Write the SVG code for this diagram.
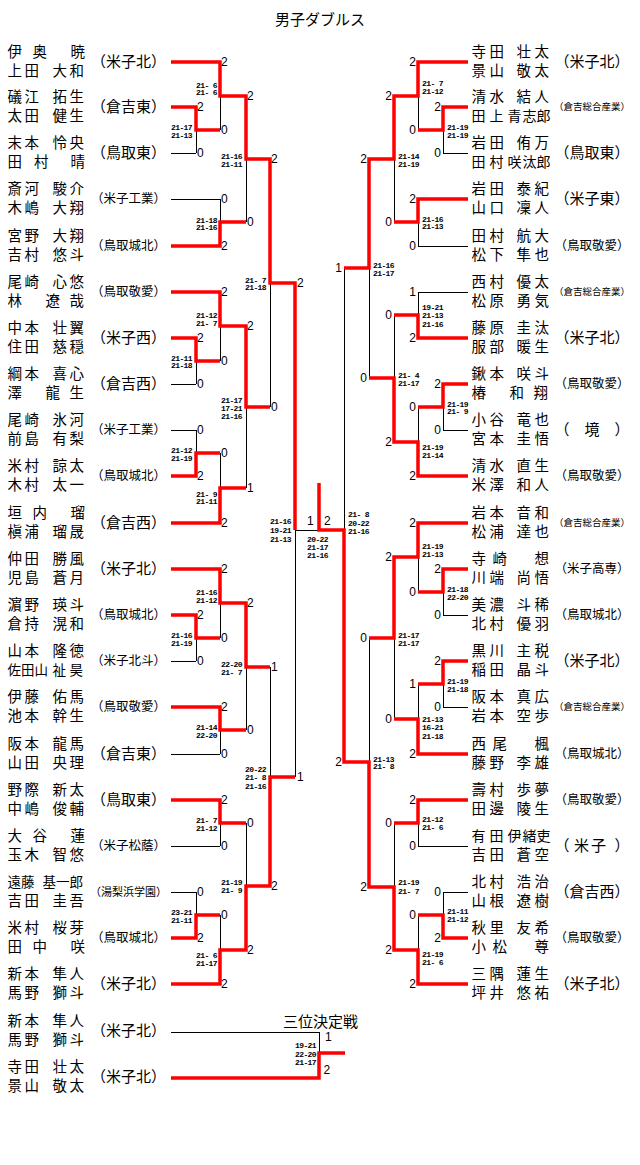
<svg xmlns="http://www.w3.org/2000/svg" width="640" height="1165" viewBox="0 0 640 1165">
<style>
.bk{fill:none;stroke:#000;stroke-width:1;shape-rendering:crispEdges}
.rd{fill:none;stroke:#f00;stroke-width:3.5;stroke-linejoin:miter;stroke-linecap:butt}
text{fill:#000}
.nm{font-family:"Noto Sans CJK JP","Noto Sans CJK SC",sans-serif;font-size:14.5px}
.n5{font-size:13.5px}
.n14{font-size:14px}
.sc{font-family:"Noto Sans CJK JP","Noto Sans CJK SC",sans-serif;text-anchor:middle}
.sx{font-family:"Noto Sans CJK JP","Noto Sans CJK SC",sans-serif}
.s15{font-size:15px}.s12{font-size:12.5px}.s11{font-size:11px}.s9{font-size:9.5px}
.pt{font-family:"Liberation Sans",Arial,sans-serif;font-size:12px}
.pr{text-anchor:end}
.gs{font-family:"Liberation Mono",monospace;font-size:8px;font-weight:bold;letter-spacing:-0.6px}
.tt{font-family:"Noto Sans CJK JP","Noto Sans CJK SC",sans-serif;font-size:15px;text-anchor:middle}
</style>
<text class="tt" x="320" y="25">男子ダブルス</text>
<text class="tt" x="320.5" y="1027">三位決定戦</text>
<g id="connectors">
<path class="bk" d="M171 62H220M171 107H196M171 153H196M171 199H220M171 246H220M171 292H220M171 338H196M171 384H196M171 430H196M171 476H196M171 523H220M171 569H220M171 615H196M171 661H196M171 707H220M171 754H220M171 800H220M171 846H220M171 892H196M171 938H196M171 984H220
M196 107V153M196 338V384M196 430V476M196 615V661M196 892V938
M196 130H220M196 361H220M196 453H220M196 638H220M196 915H220
M220 62V130M220 199V246M220 292V361M220 453V523M220 569V638M220 707V754M220 800V846M220 915V984
M220 96H246M220 222H246M220 326H246M220 488H246M220 603H246M220 730H246M220 823H246M220 950H246
M246 96V222M246 326V488M246 603V730M246 823V950
M246 159H270M246 407H270M246 667H270M246 886H270
M270 159V407M270 667V886M270 283H295M270 777H295M295 283V777M295 530H344M344 268V762
M344 268H369M344 762H369M369 159V378M369 638V887
M369 159H394M369 378H394M369 638H394M369 887H394
M394 96V222M394 315V442M394 557V719M394 823V950
M394 96H418M394 222H418M394 315H418M394 442H418M394 557H418M394 719H418M394 823H418M394 950H418
M418 62V130M418 199V246M418 292V338M418 407V476M418 523V592M418 684V754M418 800V846M418 915V984
M418 130H443M418 407H443M418 592H443M418 684H443M418 915H443
M443 107V153M443 384V430M443 569V615M443 661V707M443 892V938
M418 62H468M443 107H468M443 153H468M418 199H468M418 246H468M418 292H468M418 338H468M443 384H468M443 430H468M418 476H468M418 523H468M443 569H468M443 615H468M443 661H468M443 707H468M418 754H468M418 800H468M418 846H468M443 892H468M443 938H468M418 984H468
M171 1032H319V1078M171 1078H319"/>
<path class="rd" d="M171 62H220V96H246V159H270V283H295V530"/>
<path class="rd" d="M171 107H196V130H220"/>
<path class="rd" d="M171 246H220V222H246"/>
<path class="rd" d="M171 292H220V326H246V407H270"/>
<path class="rd" d="M171 338H196V361H220"/>
<path class="rd" d="M171 476H196V453H220"/>
<path class="rd" d="M171 523H220V488H246"/>
<path class="rd" d="M171 569H220V603H246V667H270"/>
<path class="rd" d="M171 615H196V638H220"/>
<path class="rd" d="M171 707H220V730H246"/>
<path class="rd" d="M171 800H220V823H246"/>
<path class="rd" d="M171 938H196V915H220"/>
<path class="rd" d="M171 984H220V950H246V886H270V777H295"/>
<path class="rd" d="M468 62H418V96H394V159H369V268H344"/>
<path class="rd" d="M468 107H443V130H418"/>
<path class="rd" d="M468 199H418V222H394"/>
<path class="rd" d="M468 338H418V315H394"/>
<path class="rd" d="M468 384H443V407H418"/>
<path class="rd" d="M468 476H418V442H394V378H369"/>
<path class="rd" d="M468 523H418V557H394V638H369"/>
<path class="rd" d="M468 569H443V592H418"/>
<path class="rd" d="M468 661H443V684H418"/>
<path class="rd" d="M468 754H418V719H394"/>
<path class="rd" d="M468 800H418V823H394"/>
<path class="rd" d="M468 938H443V915H418"/>
<path class="rd" d="M468 984H418V950H394V887H369V762H344V530H319V483"/>
<path class="rd" d="M171 1078H319V1053H345"/>
</g>
<g id="points" class="pt">
<text x="221" y="65.5">2</text><text x="221" y="133.5">0</text><text x="221" y="202.5">0</text><text x="221" y="249.5">2</text><text x="221" y="295.5">2</text><text x="221" y="364.5">0</text><text x="221" y="456.5">0</text><text x="221" y="526.5">2</text><text x="221" y="572.5">2</text><text x="221" y="641.5">0</text><text x="221" y="710.5">2</text><text x="221" y="757.5">0</text><text x="221" y="803.5">2</text><text x="221" y="849.5">0</text><text x="221" y="918.5">0</text><text x="221" y="987.5">2</text>
<text x="197" y="110.5">2</text><text x="197" y="156.5">0</text><text x="197" y="341.5">2</text><text x="197" y="387.5">0</text><text x="197" y="433.5">0</text><text x="197" y="479.5">2</text><text x="197" y="618.5">2</text><text x="197" y="664.5">0</text><text x="197" y="895.5">0</text><text x="197" y="941.5">2</text>
<text x="247" y="99.5">2</text><text x="247" y="225.5">0</text><text x="247" y="329.5">2</text><text x="247" y="491.5">1</text><text x="247" y="606.5">2</text><text x="247" y="733.5">0</text><text x="247" y="826.5">0</text><text x="247" y="953.5">2</text>
<text x="271" y="162.5">2</text><text x="271" y="410.5">0</text><text x="271" y="670.5">1</text><text x="271" y="889.5">2</text>
<text x="297" y="286.5">2</text><text x="297" y="780.5">1</text>
<text x="307" y="525">1</text><text x="324" y="525">2</text>
<text x="325" y="1041">1</text><text x="323.5" y="1074">2</text>
<g class="pr">
<text x="416" y="65.5">2</text><text x="416" y="133.5">0</text><text x="416" y="202.5">2</text><text x="416" y="249.5">0</text><text x="416" y="295.5">1</text><text x="416" y="341.5">2</text><text x="416" y="410.5">0</text><text x="416" y="479.5">2</text><text x="416" y="526.5">2</text><text x="416" y="595.5">0</text><text x="416" y="687.5">1</text><text x="416" y="757.5">2</text><text x="416" y="803.5">2</text><text x="416" y="849.5">0</text><text x="416" y="918.5">0</text><text x="416" y="987.5">2</text>
<text x="441" y="110.5">2</text><text x="441" y="156.5">0</text><text x="441" y="387.5">2</text><text x="441" y="433.5">0</text><text x="441" y="572.5">2</text><text x="441" y="618.5">0</text><text x="441" y="664.5">2</text><text x="441" y="710.5">0</text><text x="441" y="895.5">0</text><text x="441" y="941.5">2</text>
<text x="392" y="99.5">2</text><text x="392" y="225.5">0</text><text x="392" y="318.5">0</text><text x="392" y="445.5">2</text><text x="392" y="560.5">2</text><text x="392" y="722.5">0</text><text x="392" y="826.5">0</text><text x="392" y="953.5">2</text>
<text x="367" y="162.5">2</text><text x="367" y="381.5">0</text><text x="367" y="641.5">0</text><text x="367" y="890.5">2</text>
<text x="342" y="271.5">1</text><text x="342" y="765.5">2</text>
</g>
</g>
<g id="scores" class="gs">
<text x="171" y="130">21-17<tspan x="171" y="138">21-13</tspan></text>
<text x="196" y="88">21- 6<tspan x="196" y="95">21- 6</tspan></text>
<text x="196" y="223">21-18<tspan x="196" y="230">21-16</tspan></text>
<text x="221" y="159">21-16<tspan x="221" y="167">21-11</tspan></text>
<text x="245" y="283">21- 7<tspan x="245" y="290">21-18</tspan></text>
<text x="196" y="318">21-12<tspan x="196" y="326">21- 7</tspan></text>
<text x="171" y="361">21-11<tspan x="171" y="368">21-18</tspan></text>
<text x="221" y="403">21-17<tspan x="221" y="411">17-21</tspan><tspan x="221" y="419">21-16</tspan></text>
<text x="171" y="453">21-12<tspan x="171" y="461">21-19</tspan></text>
<text x="196" y="497">21- 9<tspan x="196" y="504">21-11</tspan></text>
<text x="270" y="524">21-16<tspan x="270" y="533">19-21</tspan><tspan x="270" y="542">21-13</tspan></text>
<text x="196" y="595">21-16<tspan x="196" y="603">21-12</tspan></text>
<text x="171" y="638">21-16<tspan x="171" y="646">21-19</tspan></text>
<text x="221" y="667">22-20<tspan x="221" y="675">21- 7</tspan></text>
<text x="196" y="730">21-14<tspan x="196" y="738">22-20</tspan></text>
<text x="245" y="772">20-22<tspan x="245" y="780">21- 8</tspan><tspan x="245" y="789">21-16</tspan></text>
<text x="196" y="823">21- 7<tspan x="196" y="831">21-12</tspan></text>
<text x="221" y="885">21-19<tspan x="221" y="893">21- 9</tspan></text>
<text x="171" y="915">23-21<tspan x="171" y="923">21-11</tspan></text>
<text x="196" y="958">21- 6<tspan x="196" y="966">21-17</tspan></text>
<text x="307" y="542">20-22<tspan x="307" y="550">21-17</tspan><tspan x="307" y="558">21-16</tspan></text>
<text x="295" y="1048">19-21<tspan x="295" y="1057">22-20</tspan><tspan x="295" y="1065">21-17</tspan></text>
<text x="422" y="86">21- 7<tspan x="422" y="94">21-12</tspan></text>
<text x="447" y="130">21-19<tspan x="447" y="138">21-19</tspan></text>
<text x="398" y="159">21-14<tspan x="398" y="167">21-19</tspan></text>
<text x="422" y="222">21-16<tspan x="422" y="229">21-13</tspan></text>
<text x="373" y="268">21-16<tspan x="373" y="276">21-17</tspan></text>
<text x="422" y="310">19-21<tspan x="422" y="318">21-13</tspan><tspan x="422" y="327">21-16</tspan></text>
<text x="398" y="378">21- 4<tspan x="398" y="386">21-17</tspan></text>
<text x="447" y="407">21-19<tspan x="447" y="414">21- 9</tspan></text>
<text x="422" y="450">21-19<tspan x="422" y="458">21-14</tspan></text>
<text x="348" y="517">21- 8<tspan x="348" y="526">20-22</tspan><tspan x="348" y="534">21-16</tspan></text>
<text x="422" y="549">21-19<tspan x="422" y="557">21-13</tspan></text>
<text x="447" y="592">21-18<tspan x="447" y="600">22-20</tspan></text>
<text x="398" y="638">21-17<tspan x="398" y="646">21-17</tspan></text>
<text x="447" y="684">21-19<tspan x="447" y="692">21-18</tspan></text>
<text x="422" y="722">21-13<tspan x="422" y="730">16-21</tspan><tspan x="422" y="739">21-18</tspan></text>
<text x="373" y="762">21-13<tspan x="373" y="769">21- 8</tspan></text>
<text x="422" y="822">21-12<tspan x="422" y="830">21- 6</tspan></text>
<text x="398" y="885">21-19<tspan x="398" y="894">21- 7</tspan></text>
<text x="447" y="914">21-11<tspan x="447" y="922">21-12</tspan></text>
<text x="422" y="957">21-19<tspan x="422" y="965">21- 6</tspan></text>
</g>
<g id="L01"><text class="nm" x="7.5 32.5 70.5" y="56.5">伊奥暁</text><text class="nm" x="7.5 24.5 52.5 69.5" y="75.5">上田大和</text><text class="sc s15" x="128.5" y="67">（米子北）</text></g>
<g id="L02"><text class="nm" x="7.5 24.5 52.5 69.5" y="101.5">礒江拓生</text><text class="nm" x="7.5 24.5 52.5 69.5" y="120.5">太田健生</text><text class="sc s15" x="128.5" y="112">（倉吉東）</text></g>
<g id="L03"><text class="nm" x="7.5 24.5 52.5 69.5" y="147.5">末本怜央</text><text class="nm" x="7.5 34 70.5" y="166.5">田村晴</text><text class="sc s15" x="128.5" y="158">（鳥取東）</text></g>
<g id="L04"><text class="nm" x="7.5 24.5 52.5 69.5" y="193.5">斎河駿介</text><text class="nm" x="7.5 24.5 52.5 69.5" y="212.5">木嶋大翔</text><text class="sc s12" x="128.5" y="203">（米子工業）</text></g>
<g id="L05"><text class="nm" x="7.5 24.5 52.5 69.5" y="240.5">宮野大翔</text><text class="nm" x="7.5 24.5 52.5 69.5" y="259.5">吉村悠斗</text><text class="sc s12" x="128.5" y="250">（鳥取城北）</text></g>
<g id="L06"><text class="nm" x="7.5 24.5 52.5 69.5" y="286.5">尾崎心悠</text><text class="nm" x="7.5 45.5 69.5" y="305.5">林遼哉</text><text class="sc s12" x="128.5" y="296">（鳥取敬愛）</text></g>
<g id="L07"><text class="nm" x="7.5 24.5 52.5 69.5" y="332.5">中本壮翼</text><text class="nm" x="7.5 24.5 52.5 69.5" y="351.5">住田慈穏</text><text class="sc s15" x="128.5" y="343">（米子西）</text></g>
<g id="L08"><text class="nm" x="7.5 24.5 52.5 69.5" y="378.5">綱本喜心</text><text class="nm" x="7.5 45.5 69.5" y="397.5">澤龍生</text><text class="sc s15" x="128.5" y="389">（倉吉西）</text></g>
<g id="L09"><text class="nm" x="7.5 24.5 52.5 69.5" y="424.5">尾崎氷河</text><text class="nm" x="7.5 24.5 52.5 69.5" y="443.5">前島有梨</text><text class="sc s12" x="128.5" y="434">（米子工業）</text></g>
<g id="L10"><text class="nm" x="7.5 24.5 52.5 69.5" y="470.5">米村諒太</text><text class="nm" x="7.5 24.5 52.5 69.5" y="489.5">木村太一</text><text class="sc s12" x="128.5" y="480">（鳥取城北）</text></g>
<g id="L11"><text class="nm" x="7.5 32.5 70.5" y="517.5">垣内瑠</text><text class="nm" x="7.5 24.5 52.5 69.5" y="536.5">槇浦瑠晟</text><text class="sc s15" x="128.5" y="528">（倉吉西）</text></g>
<g id="L12"><text class="nm" x="7.5 24.5 52.5 69.5" y="563.5">仲田勝風</text><text class="nm" x="7.5 24.5 52.5 69.5" y="582.5">児島蒼月</text><text class="sc s15" x="128.5" y="574">（米子北）</text></g>
<g id="L13"><text class="nm" x="7.5 24.5 52.5 69.5" y="609.5">濵野瑛斗</text><text class="nm" x="7.5 24.5 52.5 69.5" y="628.5">倉持滉和</text><text class="sc s12" x="128.5" y="619">（鳥取城北）</text></g>
<g id="L14"><text class="nm" x="7.5 24.5 52.5 69.5" y="655.5">山本隆徳</text><text class="nm n5" x="7.5 21 34.5 52.5 69.5" y="674.5">佐田山祉昊</text><text class="sc s12" x="128.5" y="665">（米子北斗）</text></g>
<g id="L15"><text class="nm" x="7.5 24.5 52.5 69.5" y="701.5">伊藤佑馬</text><text class="nm" x="7.5 24.5 52.5 69.5" y="720.5">池本幹生</text><text class="sc s12" x="128.5" y="711">（鳥取敬愛）</text></g>
<g id="L16"><text class="nm" x="7.5 24.5 52.5 69.5" y="748.5">阪本龍馬</text><text class="nm" x="7.5 24.5 52.5 69.5" y="767.5">山田央理</text><text class="sc s15" x="128.5" y="759">（倉吉東）</text></g>
<g id="L17"><text class="nm" x="7.5 24.5 52.5 69.5" y="794.5">野際新太</text><text class="nm" x="7.5 24.5 52.5 69.5" y="813.5">中嶋俊輔</text><text class="sc s15" x="128.5" y="805">（鳥取東）</text></g>
<g id="L18"><text class="nm" x="7.5 32.5 70.5" y="840.5">大谷蓮</text><text class="nm" x="7.5 24.5 52.5 69.5" y="859.5">玉木智悠</text><text class="sc s12" x="128.5" y="850">（米子松蔭）</text></g>
<g id="L19"><text class="nm n5" x="7.5 21 42.5 56 69.5" y="886.5">遠藤基一郎</text><text class="nm" x="7.5 24.5 52.5 69.5" y="905.5">吉田圭吾</text><text class="sc s11" x="128.5" y="895.5">（湯梨浜学園）</text></g>
<g id="L20"><text class="nm" x="7.5 24.5 52.5 69.5" y="932.5">米村桜芽</text><text class="nm" x="7.5 32.5 70.5" y="951.5">田中咲</text><text class="sc s12" x="128.5" y="942">（鳥取城北）</text></g>
<g id="L21"><text class="nm" x="7.5 24.5 52.5 69.5" y="978.5">新本隼人</text><text class="nm" x="7.5 24.5 52.5 69.5" y="997.5">馬野獅斗</text><text class="sc s15" x="128.5" y="989">（米子北）</text></g>
<g id="T01"><text class="nm" x="7.5 24.5 52.5 69.5" y="1025.5">新本隼人</text><text class="nm" x="7.5 24.5 52.5 69.5" y="1044.5">馬野獅斗</text><text class="sc s15" x="128.5" y="1036">（米子北）</text></g>
<g id="T02"><text class="nm" x="7.5 24.5 52.5 69.5" y="1071.5">寺田壮太</text><text class="nm" x="7.5 24.5 52.5 69.5" y="1090.5">景山敬太</text><text class="sc s15" x="128.5" y="1082">（米子北）</text></g>
<g id="R01"><text class="nm" x="471.5 489.5 516.5 534.5" y="56.5">寺田壮太</text><text class="nm" x="471.5 489.5 516.5 534.5" y="75.5">景山敬太</text><text class="sc s15" x="592" y="67">（米子北）</text></g>
<g id="R02"><text class="nm" x="471.5 489.5 516.5 534.5" y="101.5">清水結人</text><text class="nm n14" x="471.5 489.5 507.5 522.5 536.5" y="120.5">田上青志郎</text><text class="sc s9" x="592" y="110">（倉吉総合産業）</text></g>
<g id="R03"><text class="nm" x="471.5 489.5 516.5 534.5" y="147.5">岩田侑万</text><text class="nm n14" x="471.5 489.5 507.5 522.5 536.5" y="166.5">田村咲汰郎</text><text class="sc s15" x="592" y="158">（鳥取東）</text></g>
<g id="R04"><text class="nm" x="471.5 489.5 516.5 534.5" y="193.5">岩田泰紀</text><text class="nm" x="471.5 489.5 516.5 534.5" y="212.5">山口凜人</text><text class="sc s15" x="592" y="204">（米子東）</text></g>
<g id="R05"><text class="nm" x="471.5 489.5 516.5 534.5" y="240.5">田村航大</text><text class="nm" x="471.5 489.5 516.5 534.5" y="259.5">松下隼也</text><text class="sc s12" x="592" y="250">（鳥取敬愛）</text></g>
<g id="R06"><text class="nm" x="471.5 489.5 516.5 534.5" y="286.5">西村優太</text><text class="nm" x="471.5 489.5 516.5 534.5" y="305.5">松原勇気</text><text class="sc s9" x="592" y="295">（倉吉総合産業）</text></g>
<g id="R07"><text class="nm" x="471.5 489.5 516.5 534.5" y="332.5">藤原圭汰</text><text class="nm" x="471.5 489.5 516.5 534.5" y="351.5">服部暖生</text><text class="sc s15" x="592" y="343">（米子北）</text></g>
<g id="R08"><text class="nm" x="471.5 489.5 516.5 534.5" y="378.5">鍬本咲斗</text><text class="nm" x="471.5 509.5 533.5" y="397.5">椿和翔</text><text class="sc s12" x="592" y="388">（鳥取敬愛）</text></g>
<g id="R09"><text class="nm" x="471.5 489.5 516.5 534.5" y="424.5">小谷竜也</text><text class="nm" x="471.5 489.5 516.5 534.5" y="443.5">宮本圭悟</text><text class="sx s15" x="554.5 584.5 614.5" y="435">（境）</text></g>
<g id="R10"><text class="nm" x="471.5 489.5 516.5 534.5" y="470.5">清水直生</text><text class="nm" x="471.5 489.5 516.5 534.5" y="489.5">米澤和人</text><text class="sc s12" x="592" y="480">（鳥取敬愛）</text></g>
<g id="R11"><text class="nm" x="471.5 489.5 516.5 534.5" y="517.5">岩本音和</text><text class="nm" x="471.5 489.5 516.5 534.5" y="536.5">松浦達也</text><text class="sc s9" x="592" y="526">（倉吉総合産業）</text></g>
<g id="R12"><text class="nm" x="471.5 492.5 534.5" y="563.5">寺崎想</text><text class="nm" x="471.5 489.5 516.5 534.5" y="582.5">川端尚悟</text><text class="sc s12" x="592" y="573">（米子高専）</text></g>
<g id="R13"><text class="nm" x="471.5 489.5 516.5 534.5" y="609.5">美濃斗稀</text><text class="nm" x="471.5 489.5 516.5 534.5" y="628.5">北村優羽</text><text class="sc s12" x="592" y="619">（鳥取城北）</text></g>
<g id="R14"><text class="nm" x="471.5 489.5 516.5 534.5" y="655.5">黒川主税</text><text class="nm" x="471.5 489.5 516.5 534.5" y="674.5">稲田晶斗</text><text class="sc s15" x="592" y="666">（米子北）</text></g>
<g id="R15"><text class="nm" x="471.5 489.5 516.5 534.5" y="701.5">阪本真広</text><text class="nm" x="471.5 489.5 516.5 534.5" y="720.5">岩本空歩</text><text class="sc s9" x="592" y="710">（倉吉総合産業）</text></g>
<g id="R16"><text class="nm" x="471.5 492.5 534.5" y="748.5">西尾楓</text><text class="nm" x="471.5 489.5 516.5 534.5" y="767.5">藤野李雄</text><text class="sc s12" x="592" y="758">（鳥取城北）</text></g>
<g id="R17"><text class="nm" x="471.5 489.5 516.5 534.5" y="794.5">壽村歩夢</text><text class="nm" x="471.5 489.5 516.5 534.5" y="813.5">田邊陵生</text><text class="sc s12" x="592" y="804">（鳥取敬愛）</text></g>
<g id="R18"><text class="nm n14" x="471.5 489.5 507.5 522.5 536.5" y="840.5">有田伊緒吏</text><text class="nm" x="471.5 489.5 516.5 534.5" y="859.5">吉田蒼空</text><text class="sx s15" x="554.5 574 591 614.5" y="851">（米子）</text></g>
<g id="R19"><text class="nm" x="471.5 489.5 516.5 534.5" y="886.5">北村浩治</text><text class="nm" x="471.5 489.5 516.5 534.5" y="905.5">山根遼樹</text><text class="sc s15" x="592" y="897">（倉吉西）</text></g>
<g id="R20"><text class="nm" x="471.5 489.5 516.5 534.5" y="932.5">秋里友希</text><text class="nm" x="471.5 492.5 534.5" y="951.5">小松尊</text><text class="sc s12" x="592" y="942">（鳥取敬愛）</text></g>
<g id="R21"><text class="nm" x="471.5 489.5 516.5 534.5" y="978.5">三隅蓮生</text><text class="nm" x="471.5 489.5 516.5 534.5" y="997.5">坪井悠祐</text><text class="sc s15" x="592" y="989">（米子北）</text></g>
</svg>
